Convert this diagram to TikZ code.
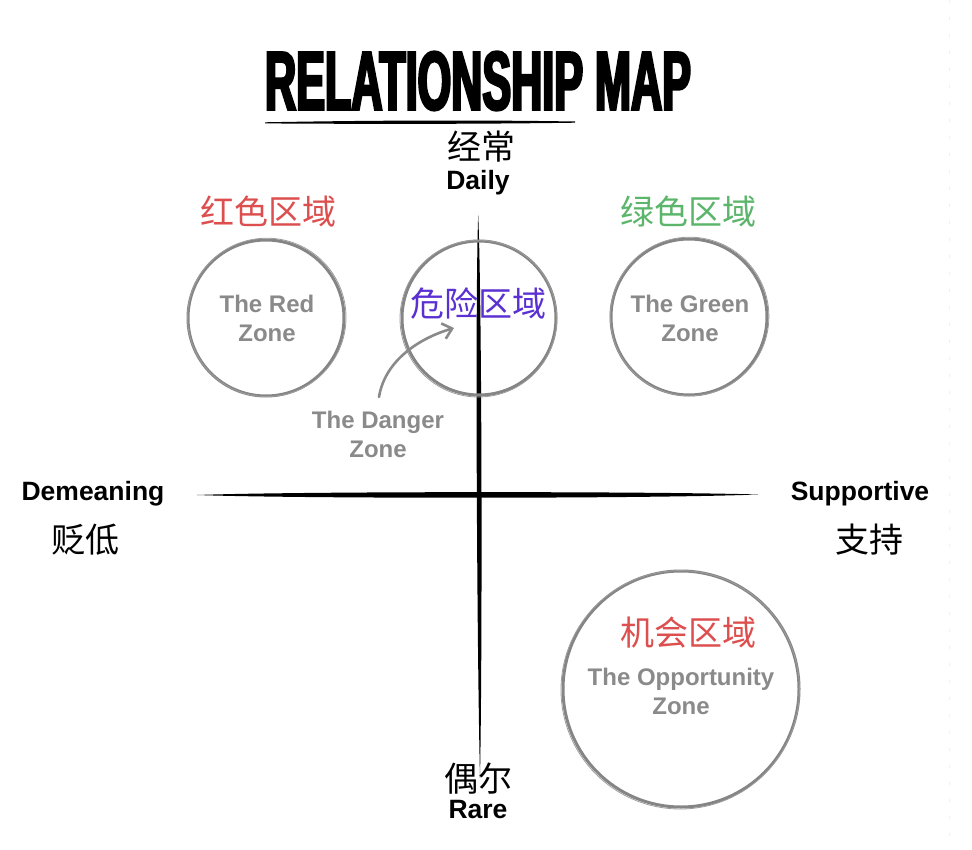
\documentclass[tikz,border=0pt]{standalone}
\usepackage{fontspec}
\setmainfont{Liberation Sans}
\newfontfamily\cjk{Noto Sans CJK SC}
\newfontfamily\titlefont{Liberation Sans}[UprightFont={* Bold}, FakeStretch=0.52, FakeBold=3]
\usetikzlibrary{arrows.meta}
\definecolor{zonegray}{HTML}{8A8A8A}
\definecolor{ringgray}{HTML}{858585}
\definecolor{zred}{HTML}{DD4E4E}
\definecolor{zgreen}{HTML}{5BB56A}
\definecolor{zpurple}{HTML}{5A30D2}
\tikzset{
  axislabel/.style={font=\fontsize{26.5}{29}\selectfont\bfseries, text=black, inner sep=0pt},
  axiscjk/.style={font=\cjk\fontsize{34}{36}\selectfont, text=black, inner sep=0pt},
  zonecjk/.style={font=\cjk\fontsize{34}{36}\selectfont, inner sep=0pt},
  zonetext/.style={font=\fontsize{24}{29}\selectfont\bfseries, text=zonegray, align=center, inner sep=0pt},
  ring/.style={draw=ringgray, line width=3pt, circle, inner sep=0pt},
  ringsketch/.style={draw=ringgray!80, line width=0.8pt},
  pointer/.style={draw=zonegray, line width=2.6pt, line cap=round,
    -{Straight Barb[length=9pt, width=16pt, line width=2.6pt]}},
}
\begin{document}
\begin{tikzpicture}[x=1pt, y=-1pt]
  \useasboundingbox (0,0) rectangle (972,850);
  \fill[white] (0,0) rectangle (972,850);
  % faint edge line
  \draw[gray!12, line width=0.6pt, dash pattern=on 3pt off 14pt] (949,0) -- (949,850);

  % title and underline
  \node[font=\titlefont\fontsize{83}{83}\selectfont, inner sep=0pt] (title) at (478,81) {RELATIONSHIP MAP};
  \fill[black] (265,122.3) .. controls (400,119.8) and (500,120.3) .. (575,121.5)
               -- (575,122.7) .. controls (500,123.8) and (400,124.3) .. (265,123.4) -- cycle;

  % axes, drawn as tapered brush strokes
  \fill[black] (478.2,215) .. controls (482,300) and (482.5,650) .. (480,778)
               .. controls (477,650) and (475,300) .. (478.2,215) -- cycle;
  \fill[black] (197,495) .. controls (300,491.3) and (650,491.3) .. (758,494.5)
               .. controls (650,498.7) and (300,498.7) .. (197,495) -- cycle;

  % axis labels
  \node[axiscjk] (often) at (481,147) {经常};
  \node[axislabel] (daily) at (478,183) {Daily};
  \node[axiscjk] (seldom) at (478,779) {偶尔};
  \node[axislabel] (rare) at (478,810) {Rare};
  \node[axislabel] (demean) at (93,494) {Demeaning};
  \node[axiscjk] (demeancn) at (85,540) {贬低};
  \node[axislabel] (support) at (860,494) {Supportive};
  \node[axiscjk] (supportcn) at (869,540) {支持};

  % zone rings
  \node[ring, minimum size=156pt] (red) at (266,318) {};
  \node[ring, minimum size=154pt] (danger) at (479,318) {};
  \node[ring, minimum size=156pt] (green) at (689,317) {};
  \node[ring, minimum size=236pt] (opp) at (681,689) {};
  \draw[ringsketch] (266.8,317.4) circle[radius=79.2];
  \draw[ringsketch] (478.4,318.6) circle[radius=78.4];
  \draw[ringsketch] (689.6,316.5) circle[radius=79.3];
  \draw[ringsketch] (680.2,689.8) circle[radius=119.2];

  % zone headings
  \node[zonecjk, text=zred] (redcn) at (268,212) {红色区域};
  \node[zonecjk, text=zgreen] (greencn) at (688,212) {绿色区域};
  \node[zonecjk, text=zpurple] (dangercn) at (478,304) {危险区域};
  \node[zonecjk, text=zred] (oppcn) at (688,633) {机会区域};

  % zone names
  \node[zonetext] (redtxt) at (267,318.5) {The Red\\Zone};
  \node[zonetext] (greentxt) at (690,318.5) {The Green\\Zone};
  \node[zonetext] (dangertxt) at (378,434) {The Danger\\Zone};
  \node[zonetext] (opptxt) at (681,691.5) {The Opportunity\\Zone};

  % pointer into the danger ring
  \coordinate (tip) at (454,328);
  \draw[pointer] (379,397) .. controls (385,360) and (420,338) .. (tip);
\end{tikzpicture}
\end{document}
